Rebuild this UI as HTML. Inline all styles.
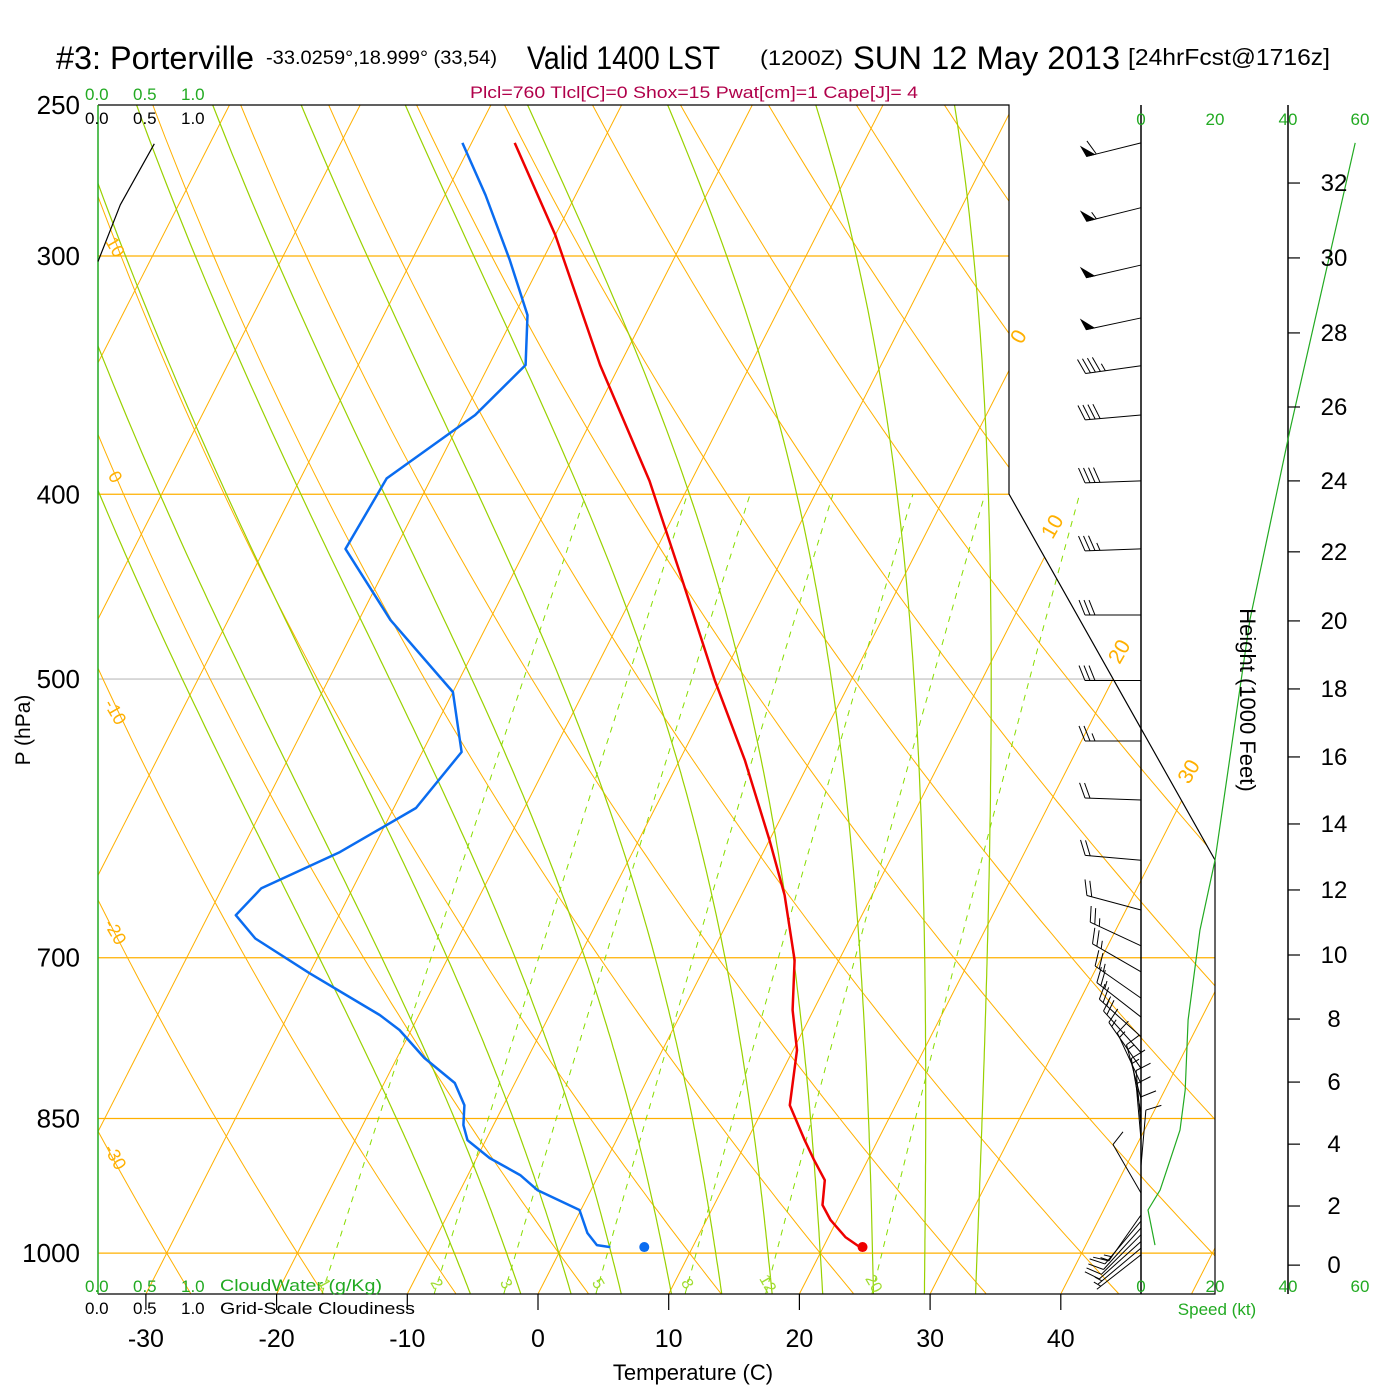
<!DOCTYPE html>
<html><head><meta charset="utf-8"><style>
html,body{margin:0;padding:0;background:#fff;}
svg{display:block;font-family:"Liberation Sans",sans-serif;}
</style></head><body>
<svg id="chart" width="1400" height="1400" viewBox="0 0 1400 1400" xmlns="http://www.w3.org/2000/svg">
<defs><clipPath id="plotclip"><polygon points="98,105 1009,105 1009,494 1215,860 1215,1294 98,1294"/></clipPath>
<clipPath id="mixclip"><rect x="98" y="494" width="1120" height="800"/></clipPath></defs>
<rect width="1400" height="1400" fill="#fff"/>
<g id="grid" clip-path="url(#plotclip)"></g>
<g id="mix" clip-path="url(#mixclip)"></g>
<g id="frame">
<polyline points="98,105 1009,105 1009,494 1215,860 1215,1294 98,1294" fill="none" stroke="#000" stroke-width="1.2"/>
<line x1="98" y1="105" x2="98" y2="1294" stroke="#22aa22" stroke-width="1.5"/>
<line x1="1141" y1="105" x2="1141" y2="1294" stroke="#000" stroke-width="1.5"/>
<line x1="1288" y1="105" x2="1288" y2="1294" stroke="#000" stroke-width="1.5"/>
</g>
<g id="series"></g>
<g id="labels" font-size="16">
<text x="56" y="69" font-size="32" textLength="198" lengthAdjust="spacingAndGlyphs">#3: Porterville</text>
<text x="266" y="64" font-size="19" textLength="231" lengthAdjust="spacingAndGlyphs">-33.0259°,18.999° (33,54)</text>
<text x="527" y="69" font-size="32" textLength="193" lengthAdjust="spacingAndGlyphs">Valid 1400 LST</text>
<text x="760" y="65" font-size="21" textLength="83" lengthAdjust="spacingAndGlyphs">(1200Z)</text>
<text x="853" y="69" font-size="32" textLength="267" lengthAdjust="spacingAndGlyphs">SUN 12 May 2013</text>
<text x="1128" y="65" font-size="23" textLength="202" lengthAdjust="spacingAndGlyphs">[24hrFcst@1716z]</text>
<text x="470" y="98" font-size="17" fill="#b0004a" textLength="448" lengthAdjust="spacingAndGlyphs">Plcl=760 Tlcl[C]=0 Shox=15 Pwat[cm]=1 Cape[J]= 4</text>
<g fill="#22aa22" font-size="17"><text x="85" y="100">0.0</text><text x="133" y="100">0.5</text><text x="181" y="100">1.0</text></g>
<g fill="#000" font-size="17"><text x="85" y="124">0.0</text><text x="133" y="124">0.5</text><text x="181" y="124">1.0</text></g>
<g fill="#22aa22" font-size="17"><text x="85" y="1292">0.0</text><text x="133" y="1292">0.5</text><text x="181" y="1292">1.0</text><text x="220" y="1291" textLength="162" lengthAdjust="spacingAndGlyphs">CloudWater (g/Kg)</text></g>
<g fill="#000" font-size="17"><text x="85" y="1314">0.0</text><text x="133" y="1314">0.5</text><text x="181" y="1314">1.0</text><text x="220" y="1314" textLength="195" lengthAdjust="spacingAndGlyphs">Grid-Scale Cloudiness</text></g>
<text x="693" y="1380" font-size="22" text-anchor="middle">Temperature (C)</text>
<text transform="translate(30,730) rotate(-90)" font-size="21" text-anchor="middle">P (hPa)</text>
<text transform="translate(1240,700) rotate(90)" font-size="22" text-anchor="middle">Height (1000 Feet)</text>
<g fill="#22aa22" font-size="17" text-anchor="middle"><text x="1141" y="125">0</text><text x="1215" y="125">20</text><text x="1288" y="125">40</text><text x="1360" y="125">60</text></g>
<g fill="#22aa22" font-size="17" text-anchor="middle"><text x="1141" y="1292">0</text><text x="1215" y="1292">20</text><text x="1288" y="1292">40</text><text x="1360" y="1292">60</text></g>
<text x="1217" y="1315" fill="#22aa22" font-size="17" text-anchor="middle">Speed (kt)</text>
</g>
</svg>
<script>
// ---- data ----
const tempP = [261.7,292.5,342.2,393.6,438.8,500.9,551.5,607.3,649,702,745.6,782.6,836.4,872.5,893.8,915.7,943.6,960.9,980.8,992.7];
const tempC = [-46.7,-40.0,-31.5,-23.2,-17.4,-10.4,-5.0,0.0,3.3,6.6,8.4,10.3,11.9,14.4,15.9,17.5,18.3,19.5,21.3,22.8];
const dewP = [261.7,278.7,301.5,322.2,342.2,363.5,392.4,427.3,465.5,507.9,546.0,584.2,616.2,643.6,665.0,683.9,713.2,750.1,763.8,790.1,814.3,836.4,856.8,872.5,891.6,910.1,926.7,949.3,976.0,990.3,992.7];
const dewC = [-50.7,-46.9,-42.5,-39.0,-37.2,-39.1,-43.4,-43.8,-37.6,-30.0,-27.0,-28.3,-32.4,-37.0,-37.9,-35.5,-30.0,-23.0,-20.9,-17.9,-14.6,-13.0,-12.3,-11.4,-9.0,-6.0,-4.1,-0.1,1.4,2.6,3.7];
const sfcP = 992.7, sfcT = 23.0, sfcTd = 6.3;
const windP = [261.7,283.0,303.3,323.3,342.5,363.5,393.6,427.3,462.8,500.9,538.8,578.6,622.3,660.8,690,712,735,752,770,785,800,815,830,845,858,872,886,900,930,955,962,970,978,986,994,1002];
const windDir = [256,256,257,258,262,265,268,268,270,270,270,272,275,285,295,300,305,308,312,318,325,335,345,350,355,355,0,5,330,215,220,222,225,228,230,232];
const windSpd = [60,55,50,50,45,40,40,35,30,30,25,20,20,20,25,25,25,25,25,20,15,15,15,15,10,10,10,10,10,15,15,10,10,10,5,5];
const spdP = [261.7,370.1,465.5,622.3,677.3,754.7,821.3,862,893.8,926.7,949.3,990.3];
const spdKt = [58.2,40.5,29.6,20.1,16.0,12.8,12.0,10.6,7.9,5.2,1.9,3.8];
const cloudP = [262,282,302];
const cloudFrac = [0.58,0.23,0.0];
const xTicks = [-30,-20,-10,0,10,20,30,40];
const pLabels = [250,300,400,500,700,850,1000];
const hLabels = [0,2,4,6,8,10,12,14,16,18,20,22,24,26,28,30,32];
const hPress = [1014.6,944.7,876.7,813.4,753.8,697.7,645.0,595.6,549.3,506.0,466.1,428.8,393.6,360.0,329.2,300.7,274.7];
const isoT = [-110,-100,-90,-80,-70,-60,-50,-40,-30,-20,-10,0,10,20,30,40,50];
const thetaC = [-50,-40,-30,-20,-10,0,10,20,30,40,50,60,70,80,90,100,110,120,130,140,150,160,170,180];
const moistTw = [-8,-4,0,4,8,12,16,20,24,28,32];
const mixW = [1,2,3,5,8,12,20];

// ---- axes ----
const NS='http://www.w3.org/2000/svg';
const yOf = p => 105 + 828.2*Math.log(p/250);
const xOf = (T,p) => 538 + 13.07*T + 0.51*(1294 - yOf(p));
const xSpd = s => 1141 + 3.68*s;
function mk(tag, attrs, parent){const e=document.createElementNS(NS,tag);for(const k in attrs)e.setAttribute(k,attrs[k]);parent.appendChild(e);return e;}
const grid=document.getElementById('grid'), mix=document.getElementById('mix'), series=document.getElementById('series'), labels=document.getElementById('labels');
const ORANGE='#ffb000', GREEN='#99d100';

const pLines=[[300,ORANGE],[400,ORANGE],[500,'#c8c8c8'],[700,ORANGE],[850,ORANGE],[1000,ORANGE]];
pLines.forEach(([p,c])=>{const l=mk('line',{x1:98,x2:1215,y1:yOf(p),y2:yOf(p),stroke:c,'stroke-width':1.3},grid);

});

isoT.forEach(T=>{const l=mk('line',{x1:xOf(T,1050),y1:yOf(1050),x2:xOf(T,250),y2:yOf(250),stroke:ORANGE,'stroke-width':1},grid);

});
thetaC.forEach(th=>{let pts=[];for(let p=1050;p>=250;p-=10){const T=(th+273.15)*Math.pow(p/1000,0.2857)-273.15;pts.push(xOf(T,p).toFixed(1)+','+yOf(p).toFixed(1));}
const l=mk('polyline',{points:pts.join(' '),fill:'none',stroke:ORANGE,'stroke-width':1},grid);

});
function es(Tc){return 6.112*Math.exp(17.67*Tc/(Tc+243.5));}
function dTdp(Tc,p){const T=Tc+273.15,e=es(Tc),r=0.622*e/(p-e),Lv=2.5e6,Rd=287,cp=1004;
return (Rd*T+Lv*r)/(p*(cp+Lv*Lv*r*0.622/(Rd*T*T)));}
moistTw.forEach(tw=>{let up=[],T=tw;for(let p=1000;p>=250;p-=5){up.push([p,T]);T-=dTdp(T,p)*5;}
let dn=[];T=tw;for(let p=1000;p<=1050;p+=5){dn.push([p,T]);T+=dTdp(T,p)*5;}
const all=dn.reverse().concat(up);
const l=mk('polyline',{points:all.map(([p,t])=>xOf(t,p).toFixed(1)+','+yOf(p).toFixed(1)).join(' '),fill:'none',stroke:GREEN,'stroke-width':1.2},grid);

});
function tw_(w,p){const e=w*p/(622+w),L=Math.log(e/6.112);return 243.5*L/(17.67-L);}
mixW.forEach(w=>{let pts=[];for(let p=1050;p>=400;p-=10)pts.push(xOf(tw_(w,p),p).toFixed(1)+','+yOf(p).toFixed(1));
const l=mk('polyline',{points:pts.join(' '),fill:'none',stroke:'#88dd00','stroke-width':1,'stroke-dasharray':'6,6'},mix);


const lp=1037,lx=xOf(tw_(w,lp),lp),ly=yOf(lp);
const t=mk('text',{x:lx,y:ly+6,'font-size':16,fill:'#a0dd30','text-anchor':'middle',transform:`rotate(60 ${lx} ${ly})`},labels);t.textContent=w;

});
[0,10,20,30].forEach(T=>{const p=250*Math.exp(((T==0?340:T==10?530:T==20?655:775)-105)/828.2);
const x=xOf(T,p),y=yOf(p);const t=mk('text',{x:x,y:y,'font-size':21,fill:ORANGE,transform:`rotate(-60 ${x} ${y})`,'text-anchor':'middle'},labels);t.textContent=T;

});
[[10,250],[0,480],[-10,715],[-20,935],[-30,1160]].forEach(([th,y])=>{const t=mk('text',{x:110,y:y,'font-size':18,fill:ORANGE,transform:`rotate(60 110 ${y})`,'text-anchor':'middle'},labels);t.textContent=th;

});

pLabels.forEach(p=>{const t=mk('text',{x:80,y:yOf(p)+9,'font-size':26,'text-anchor':'end'},labels);t.textContent=p;

});
xTicks.forEach(T=>{const x=538+13.07*T;mk('line',{x1:x,x2:x,y1:1294,y2:1310,stroke:'#000','stroke-width':1.2},labels);
const t=mk('text',{x:x,y:1347,'font-size':25,'text-anchor':'middle'},labels);t.textContent=T;

});
hLabels.forEach((h,i)=>{const y=yOf(hPress[i]);mk('line',{x1:1288,x2:1300,y1:y,y2:y,stroke:'#000','stroke-width':1.2},labels);
const t=mk('text',{x:1334,y:y+8,'font-size':24,'text-anchor':'middle'},labels);t.textContent=h;

});

function line(P,V,fx,color,w,name){const pts=P.map((p,i)=>fx(V[i],p).toFixed(1)+','+yOf(p).toFixed(1)).join(' ');
const l=mk('polyline',{points:pts,fill:'none',stroke:color,'stroke-width':w,'stroke-linejoin':'round'},series);

}
line(tempP,tempC,xOf,'#ee0000',2.5,'temperature-line');
line(dewP,dewC,xOf,'#0a6cf0',2.5,'dewpoint-line');
line(spdP,spdKt,(s)=>xSpd(s),'#22aa22',1.2,'wind-speed-line');
line(cloudP,cloudFrac,(f)=>98+97*f,'#000',1.2,'cloudiness-line');
const d1=mk('circle',{cx:xOf(sfcT,sfcP),cy:yOf(sfcP),r:5,fill:'#ee0000'},series);


const d2=mk('circle',{cx:xOf(sfcTd,sfcP),cy:yOf(sfcP),r:5,fill:'#0a6cf0'},series);



windP.forEach((p,i)=>{const y0=yOf(p),x0=1141,a=windDir[i]*Math.PI/180,L=56;
const ux=Math.sin(a),uy=-Math.cos(a);const tx=x0+ux*L,ty=y0+uy*L;
const g=mk('g',{stroke:'#000','stroke-width':1,fill:'#000'},series);


mk('line',{x1:x0,y1:y0,x2:tx,y2:ty},g);
const px=-uy,py=ux;let s=windSpd[i],pos=0;const bl=15;
while(s>=50){const bx=tx-ux*pos,by=ty-uy*pos;mk('polygon',{points:`${bx},${by} ${bx-ux*8},${by-uy*8} ${bx+px*bl*0.7+ux*3},${by+py*bl*0.7+uy*3}`},g);pos+=10;s-=50;}
while(s>=10){const bx=tx-ux*pos,by=ty-uy*pos;mk('line',{x1:bx,y1:by,x2:bx+px*bl+ux*6,y2:by+py*bl+uy*6},g);pos+=5;s-=10;}
if(s>=5){if(pos==0)pos=5;const bx=tx-ux*pos,by=ty-uy*pos;mk('line',{x1:bx,y1:by,x2:bx+px*bl*0.5+ux*3,y2:by+py*bl*0.5+uy*3},g);}
});
</script>
</body></html>
